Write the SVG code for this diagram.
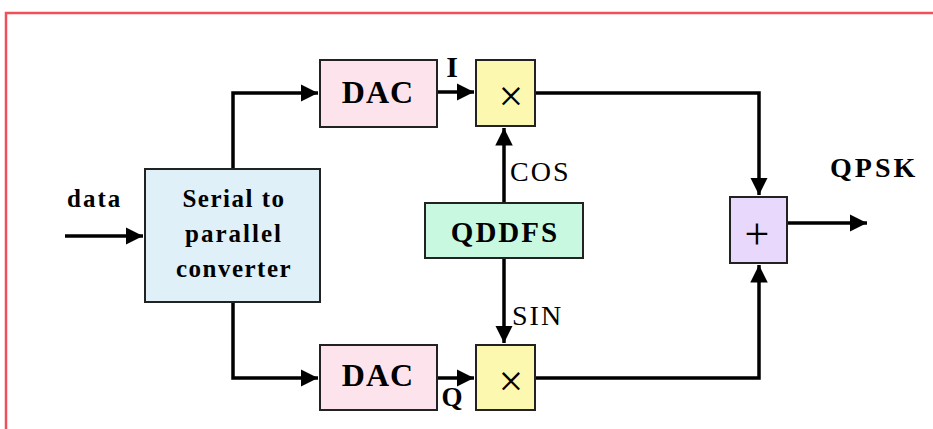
<svg xmlns="http://www.w3.org/2000/svg" width="933" height="429" viewBox="0 0 933 429">
<defs>
<marker id="ah" viewBox="0 0 10 10" refX="10" refY="5" markerWidth="5" markerHeight="5" markerUnits="strokeWidth" orient="auto">
<path d="M0,0 L10,5 L0,10 Z" fill="#000"/>
</marker>
<style>
.box{stroke:#222;stroke-width:2}
.b{font-family:"Liberation Serif",serif;font-weight:bold;fill:#000}
.n{font-family:"Liberation Serif",serif;fill:#000}
.w{fill:none;stroke:#000;stroke-width:3.5}
</style>
</defs>
<rect width="933" height="429" fill="#fff"/>
<path d="M6,429 V13 H933" fill="none" stroke="#f0505a" stroke-width="2.5"/>
<g id="connectors">
<path class="w" d="M65,236 H143" stroke-width="4.5" marker-end="url(#ah)"/>
<path class="w" d="M233,169 V93 H318" marker-end="url(#ah)"/>
<path class="w" d="M233,302 V378 H318" marker-end="url(#ah)"/>
<path class="w" d="M437,92 H474" marker-end="url(#ah)"/>
<path class="w" d="M437,378 H474" marker-end="url(#ah)"/>
<path class="w" d="M504,203 V128" marker-end="url(#ah)"/>
<path class="w" d="M504,258 V343" marker-end="url(#ah)"/>
<path class="w" d="M535,93 H759 V195" marker-end="url(#ah)"/>
<path class="w" d="M535,378 H759 V265" marker-end="url(#ah)"/>
<path class="w" d="M787,223 H867" stroke-width="4.5" marker-end="url(#ah)"/>
</g>
<g id="data-label"><text class="b" x="67" y="207" font-size="25" letter-spacing="2">data</text></g>
<g id="serial">
<rect class="box" x="145" y="169" width="175" height="133" fill="#dff0f8"/>
<text class="b" x="234" y="207" font-size="25" letter-spacing="1.5" text-anchor="middle">Serial to</text>
<text class="b" x="234" y="242" font-size="25" letter-spacing="2" text-anchor="middle">parallel</text>
<text class="b" x="234" y="277" font-size="25" letter-spacing="1.5" text-anchor="middle">converter</text>
</g>
<g id="dac-i">
<rect class="box" x="320" y="60" width="117" height="67" fill="#fde4ec"/>
<text class="b" x="378" y="103" font-size="32" letter-spacing="1" text-anchor="middle">DAC</text>
</g>
<g id="dac-q">
<rect class="box" x="320" y="345" width="117" height="65" fill="#fde4ec"/>
<text class="b" x="378" y="386" font-size="32" letter-spacing="1" text-anchor="middle">DAC</text>
</g>
<g id="mul-i">
<rect class="box" x="476" y="60" width="59" height="66" fill="#fdf8b0"/>
<text class="n" x="511" y="111" font-size="44" text-anchor="middle">×</text>
</g>
<g id="mul-q">
<rect class="box" x="476" y="345" width="59" height="65" fill="#fdf8b0"/>
<text class="n" x="511" y="396" font-size="44" text-anchor="middle">×</text>
</g>
<g id="label-i"><text class="b" x="452" y="77" font-size="30" text-anchor="middle">I</text></g>
<g id="label-q"><text class="b" x="452" y="406" font-size="27" text-anchor="middle">Q</text></g>
<g id="qddfs">
<rect class="box" x="425" y="203" width="158" height="55" fill="#c8f8e0"/>
<text class="b" x="505" y="242" font-size="29" letter-spacing="2" text-anchor="middle">QDDFS</text>
</g>
<g id="label-cos"><text class="n" x="510" y="181" font-size="28" letter-spacing="2">COS</text></g>
<g id="label-sin"><text class="n" x="512" y="325" font-size="28" letter-spacing="2">SIN</text></g>
<g id="sum">
<rect class="box" x="730" y="197" width="57" height="66" fill="#e8d8fc"/>
<text class="n" x="757" y="249" font-size="44" text-anchor="middle">+</text>
</g>
<g id="label-qpsk"><text class="b" x="830" y="177" font-size="28" letter-spacing="3">QPSK</text></g>
</svg>
